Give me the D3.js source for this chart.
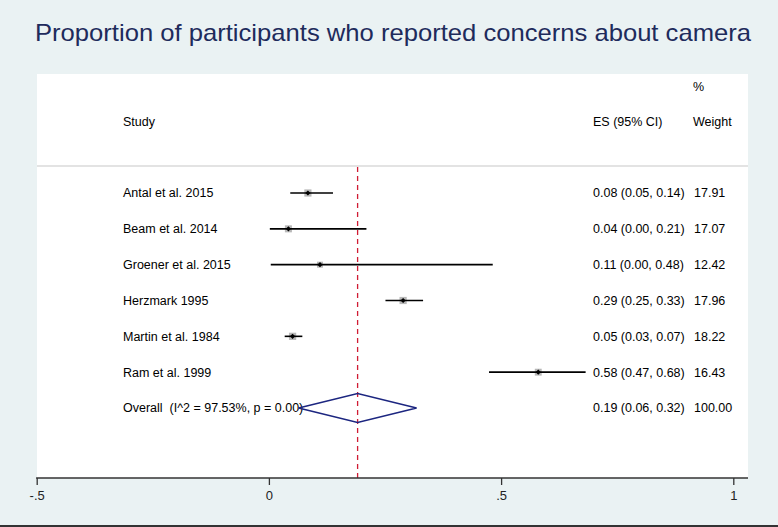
<!DOCTYPE html>
<html>
<head>
<meta charset="utf-8">
<script src="https://cdn.jsdelivr.net/npm/d3@7"></script>
<style>
  body { margin: 0; background: #eaf2f3; }
  svg { display: block; font-family: "Liberation Sans", Arial, sans-serif; }
  text { white-space: pre; }
</style>
</head>
<body>
<div id="chart"></div>
<script>
/* DATA */
const studies = ["Antal et al. 2015", "Beam et al. 2014", "Groener et al. 2015",
  "Herzmark 1995", "Martin et al. 1984", "Ram et al. 1999"];
const es = [0.084, 0.042, 0.110, 0.289, 0.051, 0.580];
const lower = [0.046, 0.002, 0.004, 0.251, 0.034, 0.474];
const upper = [0.138, 0.210, 0.482, 0.332, 0.072, 0.682];
const weights = [17.91, 17.07, 12.42, 17.96, 18.22, 16.43];

const overallLabel = "Overall  (I^2 = 97.53%, p = 0.00)";
const overall = { es: 0.191, lower: 0.064, upper: 0.318, weight: 100.00 };

const xTicks = [-0.5, 0, 0.5, 1];
const xTickLabels = ["-.5", "0", ".5", "1"];
const chartTitle = "Proportion of participants who reported concerns about camera";

/* LAYOUT */
const width = 778, height = 527;
const plot = { left: 37, right: 748, top: 74, bottom: 478 };

const svg = d3.select("#chart").append("svg")
  .attr("width", width)
  .attr("height", height);

svg.append("rect")
  .attr("width", width).attr("height", height)
  .attr("fill", "#eaf2f3");

// plot region
svg.append("rect")
  .attr("x", plot.left).attr("y", plot.top)
  .attr("width", plot.right - plot.left)
  .attr("height", plot.bottom - plot.top)
  .attr("fill", "#ffffff");

// bottom border line
svg.append("line")
  .attr("x1", 0).attr("x2", width)
  .attr("y1", 526).attr("y2", 526)
  .attr("stroke", "#333").attr("stroke-width", 2);

svg.append("text")
  .attr("x", 393).attr("y", 41)
  .attr("text-anchor", "middle")
  .attr("font-size", 24)
  .attr("fill", "#1e2b5c")
  .attr("textLength", 716)
  .attr("lengthAdjust", "spacingAndGlyphs")
  .text(chartTitle);

/* SCALES */
const xScale = d3.scaleLinear()
  .domain([-0.5, 1])
  .range([36.7, 733.3]);

const rows = studies.concat([overallLabel]);
const yScale = d3.scalePoint()
  .domain(rows)
  .range([193, 408]);

/* HEADER */
const fs = 12.5;
svg.append("text").attr("x", 123).attr("y", 122).attr("dy", "0.35em")
  .attr("font-size", fs).text("Study");
svg.append("text").attr("x", 593).attr("y", 122).attr("dy", "0.35em")
  .attr("font-size", fs).text("ES (95% CI)");
svg.append("text").attr("x", 693).attr("y", 87).attr("dy", "0.35em")
  .attr("font-size", fs).text("%");
svg.append("text").attr("x", 693).attr("y", 122).attr("dy", "0.35em")
  .attr("font-size", fs).text("Weight");

svg.append("line")
  .attr("x1", plot.left).attr("x2", plot.right)
  .attr("y1", 166).attr("y2", 166)
  .attr("stroke", "#c8c8c8").attr("stroke-width", 1.2);

// overall effect dashed line
svg.append("line")
  .attr("x1", xScale(overall.es)).attr("x2", xScale(overall.es))
  .attr("y1", 167).attr("y2", plot.bottom)
  .attr("stroke", "#d01c34")
  .attr("stroke-width", 1.3)
  .attr("stroke-dasharray", "5,4");

/* STUDY ROWS */
const data = studies.map((s, i) => ({
  study: s, es: es[i], lower: lower[i], upper: upper[i], weight: weights[i]
}));

const row = svg.selectAll("g.row")
  .data(data)
  .join("g")
  .attr("class", "row")
  .attr("transform", d => `translate(0,${yScale(d.study)})`);

row.append("rect")
  .attr("x", d => xScale(d.es) - Math.sqrt(d.weight) * 0.85)
  .attr("y", d => -Math.sqrt(d.weight) * 0.85)
  .attr("width", d => Math.sqrt(d.weight) * 1.7)
  .attr("height", d => Math.sqrt(d.weight) * 1.7)
  .attr("fill", "#b8b8b8");

row.append("line")
  .attr("x1", d => xScale(d.lower))
  .attr("x2", d => xScale(d.upper))
  .attr("stroke", "#000")
  .attr("stroke-width", 1.6);

row.append("path")
  .attr("d", d => {
    const cx = xScale(d.es);
    return `M${cx - 2.6},0L${cx},-2.6L${cx + 2.6},0L${cx},2.6Z`;
  })
  .attr("fill", "#000");

row.append("text")
  .attr("x", 123).attr("dy", "0.35em")
  .attr("font-size", fs)
  .text(d => d.study);

row.append("text")
  .attr("x", 593).attr("dy", "0.35em")
  .attr("font-size", fs)
  .text(d => `${d.es.toFixed(2)} (${d.lower.toFixed(2)}, ${d.upper.toFixed(2)})`);

row.append("text")
  .attr("x", 694).attr("dy", "0.35em")
  .attr("font-size", fs)
  .text(d => d.weight.toFixed(2));

/* OVERALL ROW */
const oy = yScale(overallLabel);
svg.append("text")
  .attr("x", 123).attr("y", oy).attr("dy", "0.35em")
  .attr("font-size", fs)
  .text(overallLabel);

svg.append("path")
  .attr("d", `M${xScale(overall.lower)},${oy}L${xScale(overall.es)},${oy - 14.5}` +
    `L${xScale(overall.upper)},${oy}L${xScale(overall.es)},${oy + 14.5}Z`)
  .attr("fill", "none")
  .attr("stroke", "#1c2680")
  .attr("stroke-width", 1.6);

svg.append("text")
  .attr("x", 593).attr("y", oy).attr("dy", "0.35em")
  .attr("font-size", fs)
  .text(`${overall.es.toFixed(2)} (${overall.lower.toFixed(2)}, ${overall.upper.toFixed(2)})`);

svg.append("text")
  .attr("x", 694).attr("y", oy).attr("dy", "0.35em")
  .attr("font-size", fs)
  .text(overall.weight.toFixed(2));

/* AXIS */
const xAxis = d3.axisBottom(xScale)
  .tickValues(xTicks)
  .tickFormat((d, i) => xTickLabels[i])
  .tickSize(7)
  .tickPadding(6);

const axisG = svg.append("g")
  .attr("transform", `translate(0,${plot.bottom})`)
  .call(xAxis);

axisG.select(".domain").remove();
axisG.selectAll(".tick line").attr("stroke", "#333").attr("stroke-width", 1.3);
axisG.selectAll(".tick text")
  .attr("font-size", 13)
  .attr("font-family", "Liberation Sans, Arial, sans-serif")
  .attr("fill", "#222");

svg.append("line")
  .attr("x1", xScale(-0.5) - 0.6).attr("x2", plot.right)
  .attr("y1", plot.bottom).attr("y2", plot.bottom)
  .attr("stroke", "#333").attr("stroke-width", 1.3);
</script>
</body>
</html>
